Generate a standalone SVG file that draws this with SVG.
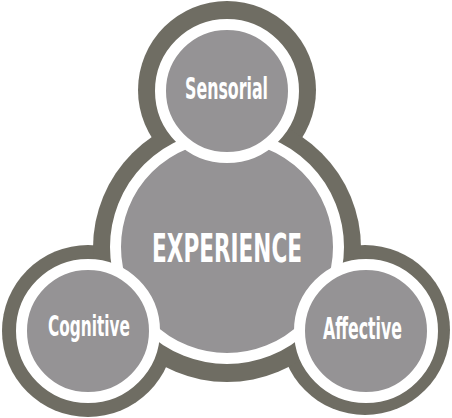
<svg xmlns="http://www.w3.org/2000/svg" width="452" height="418" viewBox="0 0 452 418">
  <style>
    .blob { fill: #6f6d63; }
    .node { fill: #959395; stroke: #ffffff; stroke-width: 11; }
    .lbl { fill: #ffffff; font-family: "Liberation Sans Narrow", "DejaVu Sans Condensed", "Liberation Sans", sans-serif; font-weight: bold; text-anchor: middle; }
  </style>
  <rect width="452" height="418" fill="#ffffff"/>
  <g id="background">
    <circle class="blob" cx="227" cy="90" r="89"/>
    <circle class="blob" cx="88" cy="331" r="86"/>
    <circle class="blob" cx="365" cy="330" r="85"/>
    <circle class="blob" cx="227" cy="248" r="134"/>
  </g>
  <g id="connectors"></g>
  <g id="experience">
    <circle class="node" cx="227" cy="247" r="111.5"/>
    <text class="lbl" x="227" y="262" font-size="39" textLength="150" lengthAdjust="spacingAndGlyphs">EXPERIENCE</text>
  </g>
  <g id="sensorial">
    <circle class="node" cx="227" cy="91" r="66.5"/>
    <text class="lbl" x="226.5" y="99" font-size="30" textLength="83" lengthAdjust="spacingAndGlyphs">Sensorial</text>
  </g>
  <g id="cognitive">
    <circle class="node" cx="88" cy="331" r="66.5"/>
    <text class="lbl" x="89" y="336" font-size="29" textLength="82" lengthAdjust="spacingAndGlyphs">Cognitive</text>
  </g>
  <g id="affective">
    <circle class="node" cx="366" cy="331" r="66.5"/>
    <text class="lbl" x="362.5" y="339" font-size="30" textLength="79" lengthAdjust="spacingAndGlyphs">Affective</text>
  </g>
</svg>
